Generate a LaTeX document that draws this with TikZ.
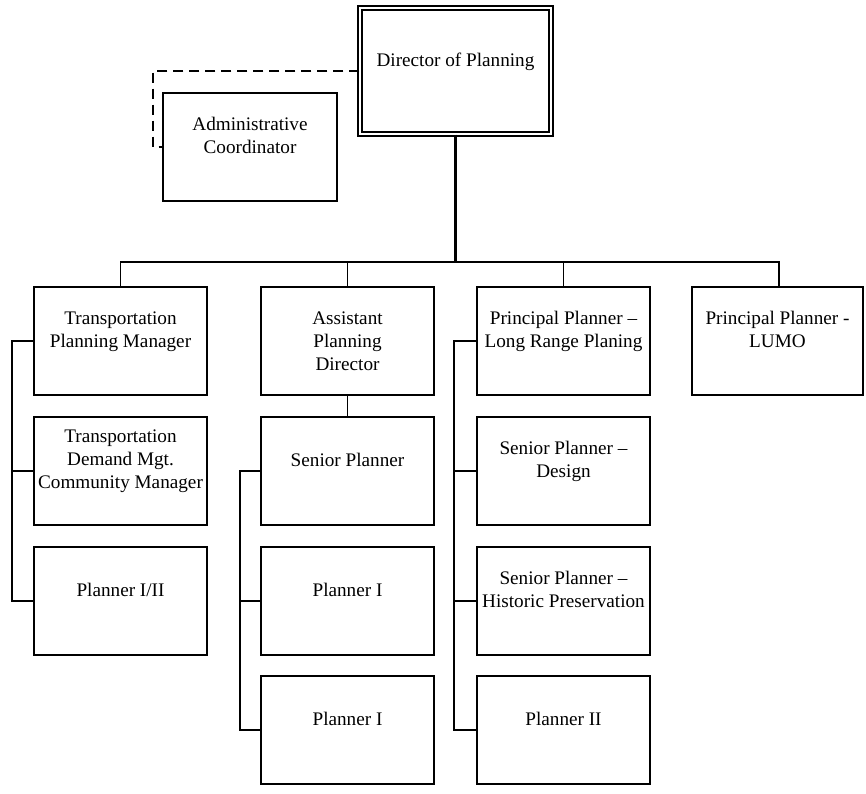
\documentclass[tikz,border=0pt]{standalone}
\usepackage{fontspec}
\setmainfont{Liberation Serif}
\begin{document}
\begin{tikzpicture}[x=1pt,y=-1pt,
  every node/.style={font=\fontsize{19.2}{23}\selectfont},
  box/.style={draw,line width=1.6pt,minimum width=173pt,minimum height=108pt,inner sep=0pt,align=center},
  conn/.style={line width=1.6pt},
  topbox/.style={draw,line width=1.4pt,double,double distance=2.6pt,minimum width=191pt,minimum height=126pt,inner sep=0pt,align=center}]
\useasboundingbox (0,0) rectangle (866,793);
% top
\node[topbox] (dir) at (455.5,71) {Director of Planning\\~};
\node[box,minimum width=174pt] (admin) at (250,147) {Administrative\\Coordinator\\~};
% row 1
\node[box] (c1r1) at (120.5,341) {Transportation\\Planning Manager\\~};
\node[box] (c2r1) at (347.5,341) {Assistant\\Planning\\Director};
\node[box] (c3r1) at (563.5,341) {Principal Planner –\\Long Range Planing\\~};
\node[box,minimum width=171pt] (c4r1) at (777.5,341) {Principal Planner -\\LUMO\\~};
% column 1
\node[box] (c1r2) at (120.5,471) {Transportation\\Demand Mgt.\\Community Manager\\~};
\node[box] (c1r3) at (120.5,601) {Planner I/II\\~};
% column 2
\node[box] (c2r2) at (347.5,471) {Senior Planner\\~};
\node[box] (c2r3) at (347.5,601) {Planner I\\~};
\node[box] (c2r4) at (347.5,730) {Planner I\\~};
% column 3
\node[box] (c3r2) at (563.5,471) {Senior Planner –\\Design\\~};
\node[box] (c3r3) at (563.5,601) {Senior Planner –\\Historic Preservation\\~};
\node[box] (c3r4) at (563.5,730) {Planner II\\~};
% connectors
\coordinate (bus) at (455.5,262);
\coordinate (dashc) at (153,100);
\draw[line width=1.6pt,dash pattern=on 10pt off 6pt] (dir.west) -| (dashc) |- (admin.west);
\draw[line width=2.4pt] (dir.south) -- (bus);
\draw[conn] (c1r1.north) -- (c1r1.north |- bus) -| (c4r1.north -| 779,0);
\draw[conn] (c2r1.north) -- (c2r1.north |- bus);
\draw[conn] (c3r1.north) -- (c3r1.north |- bus);
\draw[conn] (c2r1.south) -- (c2r2.north);
% side branches
\draw[conn] (c1r1.west) -- ++(-21.5,0) |- (c1r3.west);
\draw[conn] (c1r2.west) -- ++(-21.5,0);
\draw[conn] (c2r2.west) -- ++(-20,0) |- (c2r4.west);
\draw[conn] (c2r3.west) -- ++(-20,0);
\draw[conn] (c3r1.west) -- ++(-22,0) |- (c3r4.west);
\draw[conn] (c3r2.west) -- ++(-22,0);
\draw[conn] (c3r3.west) -- ++(-22,0);
\end{tikzpicture}
\end{document}
